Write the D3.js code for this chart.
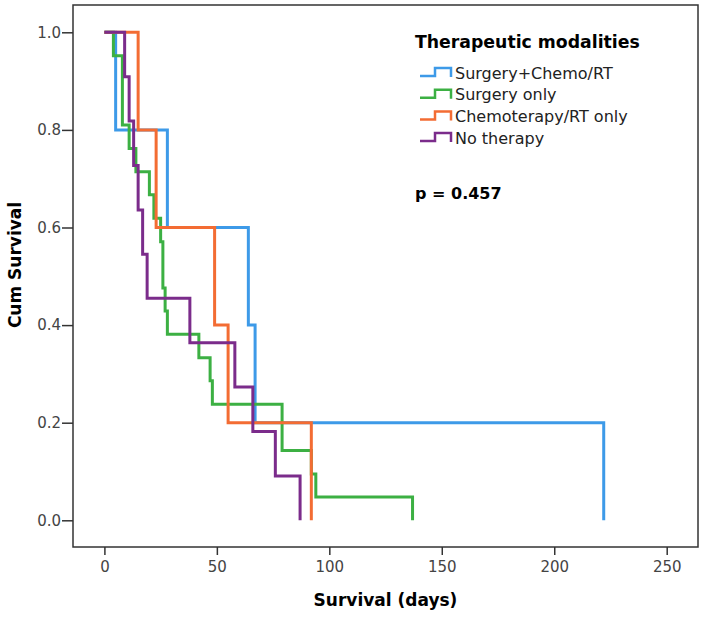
<!DOCTYPE html>
<html>
<head>
<meta charset="utf-8">
<script src="https://cdn.jsdelivr.net/npm/d3@7"></script>
<style>
  body { margin: 0; background: #fff; }
  text { font-family: "DejaVu Sans", sans-serif; }
</style>
</head>
<body>
<svg width="708" height="620"></svg>
<script>

// Kaplan-Meier steps (days, cumulative survival)
var blueTimes = [0, 5, 28, 64, 67, 222];
var blueSurv = [1, 0.8, 0.6, 0.4, 0.2, 0];

var greenTimes = [0, 4, 8, 11, 14, 20, 22, 25, 26, 27, 28, 42, 47, 48, 79, 92, 94, 137];
var greenSurv = [1, 0.952, 0.810, 0.762, 0.714, 0.667, 0.619, 0.571, 0.476, 0.429, 0.381, 0.333, 0.286, 0.238, 0.143, 0.095, 0.048, 0];

var orangeTimes = [0, 15, 23, 49, 55, 92];
var orangeSurv = [1, 0.8, 0.6, 0.4, 0.2, 0];

var purpleTimes = [0, 9, 11, 13, 15, 17, 19, 38, 58, 66, 76, 87];
var purpleSurv = [1, 0.909, 0.818, 0.727, 0.636, 0.545, 0.455, 0.364, 0.273, 0.182, 0.091, 0];

var groupNames = ["Surgery+Chemo/RT", "Surgery only", "Chemoterapy/RT only", "No therapy"];
var groupColors = ["#3d9ae8", "#3cb043", "#f36c33", "#7b2c8b"];

var xTicks = [0, 50, 100, 150, 200, 250];
var yTicks = [0, 0.2, 0.4, 0.6, 0.8, 1.0];

var pLabel = "p = 0.457";

var svg = d3.select("svg");

// plot frame
var frameLeft = 73, frameTop = 5, frameRight = 698, frameBottom = 547;

var x = d3.scaleLinear().domain([0, 250]).range([104.4, 666.7]);
var y = d3.scaleLinear().domain([0, 1]).range([520.3, 32.3]);

svg.append("rect")
    .attr("x", frameLeft)
    .attr("y", frameTop)
    .attr("width", frameRight - frameLeft)
    .attr("height", frameBottom - frameTop)
    .attr("fill", "none")
    .attr("stroke", "#333")
    .attr("stroke-width", 1.5);

// axes
var xAxis = svg.append("g")
    .attr("transform", "translate(0," + frameBottom + ")")
    .call(d3.axisBottom(x).tickValues(xTicks).tickSize(8).tickSizeOuter(0).tickPadding(6));

var yAxis = svg.append("g")
    .attr("transform", "translate(" + frameLeft + ",0)")
    .call(d3.axisLeft(y).tickValues(yTicks).tickSize(11).tickSizeOuter(0).tickPadding(1)
        .tickFormat(d3.format(".1f")));

svg.selectAll(".domain").remove();
svg.selectAll(".tick line").attr("stroke", "#333").attr("stroke-width", 1.5);
svg.selectAll(".tick text")
    .attr("font-family", "DejaVu Sans")
    .attr("font-size", 15)
    .attr("fill", "#444");

// axis titles
svg.append("text")
    .attr("x", (frameLeft + frameRight) / 2)
    .attr("y", 606)
    .attr("text-anchor", "middle")
    .attr("font-size", 17)
    .attr("font-weight", "bold")
    .text("Survival (days)");

svg.append("text")
    .attr("transform", "translate(21,265) rotate(-90)")
    .attr("text-anchor", "middle")
    .attr("font-size", 17)
    .attr("font-weight", "bold")
    .text("Cum Survival");

// curves, drawn in legend order
var groups = [
    { times: blueTimes, surv: blueSurv },
    { times: greenTimes, surv: greenSurv },
    { times: orangeTimes, surv: orangeSurv },
    { times: purpleTimes, surv: purpleSurv }
];

var line = d3.line()
    .x(function (d) { return x(d[0]); })
    .y(function (d) { return y(d[1]); })
    .curve(d3.curveStepAfter);

groups.forEach(function (g, i) {
    var pts = g.times.map(function (t, j) { return [t, g.surv[j]]; });
    svg.append("path")
        .datum(pts)
        .attr("d", line)
        .attr("fill", "none")
        .attr("stroke", groupColors[i])
        .attr("stroke-width", 3);
});

// legend
svg.append("text")
    .attr("x", 415)
    .attr("y", 48)
    .attr("font-size", 17.3)
    .attr("font-weight", "bold")
    .text("Therapeutic modalities");

groupNames.forEach(function (name, i) {
    var cy = 73 + i * 21.7;
    svg.append("path")
        .attr("d", "M420," + (cy + 3) + "H435V" + (cy - 5) + "H451V" + (cy + 4))
        .attr("fill", "none")
        .attr("stroke", groupColors[i])
        .attr("stroke-width", 2.5);
    svg.append("text")
        .attr("x", 455)
        .attr("y", cy)
        .attr("dy", "0.35em")
        .attr("font-size", 16)
        .attr("fill", "#222")
        .text(name);
});

svg.append("text")
    .attr("x", 415)
    .attr("y", 193)
    .attr("dy", "0.35em")
    .attr("font-size", 16)
    .attr("font-weight", "bold")
    .text(pLabel);

</script>
</body>
</html>
